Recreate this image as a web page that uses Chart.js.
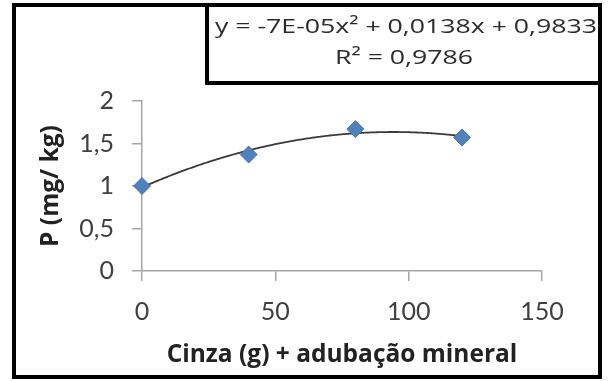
<!DOCTYPE html>
<html>
<head>
<meta charset="utf-8">
<script src="https://cdn.jsdelivr.net/npm/chart.js@4"></script>
<style>
  html, body { margin: 0; padding: 0; background: #ffffff; }
  canvas { display: block; }
</style>
</head>
<body>
<canvas id="chart" width="608" height="381"></canvas>
<script>
// Ash dose (g) applied together with mineral fertiliser, and soil P (mg/kg)
const doses = [0, 40, 80, 120];
const phosphorus = [1.00, 1.37, 1.67, 1.57];

// Axis ranges and tick steps
const xRange = [0, 150];
const xStep = 50;
const yRange = [0, 2];
const yStep = 0.5;

// Texts
const xTitle = 'Cinza (g) + adubação mineral';
const yTitle = 'P (mg/ kg)';
const equationLines = ['y = -7E-05x² + 0,0138x + 0,9833', 'R² = 0,9786'];

// Least-squares second-order polynomial through the measured points
function quadraticFit(xs, ys) {
  const n = xs.length;
  let s1 = 0, s2 = 0, s3 = 0, s4 = 0, t0 = 0, t1 = 0, t2 = 0;
  for (let i = 0; i < n; i++) {
    const x = xs[i], y = ys[i];
    s1 += x; s2 += x * x; s3 += x * x * x; s4 += x * x * x * x;
    t0 += y; t1 += x * y; t2 += x * x * y;
  }
  const m = [[n, s1, s2, t0], [s1, s2, s3, t1], [s2, s3, s4, t2]];
  for (let c = 0; c < 3; c++) {
    let p = c;
    for (let r = c + 1; r < 3; r++) if (Math.abs(m[r][c]) > Math.abs(m[p][c])) p = r;
    [m[c], m[p]] = [m[p], m[c]];
    for (let r = 0; r < 3; r++) {
      if (r === c) continue;
      const f = m[r][c] / m[c][c];
      for (let k = c; k < 4; k++) m[r][k] -= f * m[c][k];
    }
  }
  return [m[0][3] / m[0][0], m[1][3] / m[1][1], m[2][3] / m[2][2]];
}
const trend = quadraticFit(doses, phosphorus);

const decimalComma = v => String(v).replace('.', ',');

// draws one centred line of text, widened to the given width
function wideText(ctx, text, cx, baseline, width) {
  const w = ctx.measureText(text).width;
  const k = width / w;
  ctx.save();
  ctx.translate(cx, baseline);
  ctx.scale(k, 1);
  ctx.fillText(text, 0, 0);
  ctx.restore();
  return k;
}

const framePlugin = {
  id: 'frame',
  beforeDraw(chart) {
    const ctx = chart.ctx;
    ctx.save();
    ctx.fillStyle = '#ffffff';
    ctx.fillRect(0, 0, chart.width, chart.height);
    ctx.restore();
  },
  beforeDatasetsDraw(chart) {
    // trend curve over the dose range of the data
    const ctx = chart.ctx;
    const xs = chart.scales.x, ys = chart.scales.y;
    const x0 = Math.min(...doses), x1 = Math.max(...doses);
    ctx.save();
    ctx.beginPath();
    for (let i = 0; i <= 240; i++) {
      const x = x0 + (x1 - x0) * i / 240;
      const y = trend[0] + trend[1] * x + trend[2] * x * x;
      const px = xs.getPixelForValue(x), py = ys.getPixelForValue(y);
      if (i === 0) ctx.moveTo(px, py); else ctx.lineTo(px, py);
    }
    ctx.strokeStyle = '#3a3a3a';
    ctx.lineWidth = 1.8;
    ctx.stroke();
    ctx.restore();
  },
  afterDraw(chart) {
    const ctx = chart.ctx;
    ctx.save();
    ctx.strokeStyle = '#000000';
    ctx.lineWidth = 4;
    // outer frame
    ctx.strokeRect(14, 5, 586, 372);
    // equation box
    ctx.fillStyle = '#ffffff';
    ctx.fillRect(207, 5, 393, 78);
    ctx.strokeRect(207, 5, 393, 78);
    ctx.fillStyle = '#2b2b2b';
    ctx.font = '20px "Open Sans"';
    ctx.textAlign = 'center';
    ctx.textBaseline = 'alphabetic';
    const k = wideText(ctx, equationLines[0], 406, 33, 382);
    wideText(ctx, equationLines[1], 404, 64, ctx.measureText(equationLines[1]).width * k);
    ctx.restore();
  }
};

const axisGrey = '#a6a6a6';

new Chart(document.getElementById('chart'), {
  type: 'scatter',
  data: {
    datasets: [{
      data: doses.map((d, i) => ({ x: d, y: phosphorus[i] })),
      pointStyle: 'rectRot',
      pointRadius: 8.5,
      pointHoverRadius: 8.5,
      backgroundColor: '#4f81bd',
      borderColor: '#4677b3',
      borderWidth: 1,
      showLine: false,
      clip: false
    }]
  },
  options: {
    responsive: false,
    animation: false,
    devicePixelRatio: 1,
    layout: { padding: { left: 0, right: 66, top: 101, bottom: 0 } },
    plugins: {
      legend: { display: false },
      tooltip: { enabled: false }
    },
    scales: {
      x: {
        type: 'linear',
        min: xRange[0],
        max: xRange[1],
        afterFit: s => { s.height = 110; },
        ticks: {
          stepSize: xStep,
          maxRotation: 0,
          padding: 16,
          color: '#404040',
          font: { family: 'Lato', size: 25 },
          callback: decimalComma
        },
        grid: { drawOnChartArea: false, drawTicks: true, tickLength: 10, color: axisGrey, lineWidth: 1.5 },
        border: { color: axisGrey, width: 1.5 },
        title: {
          display: true,
          text: xTitle,
          color: '#222222',
          font: { family: 'Open Sans', size: 24.5, weight: 'bold' },
          padding: { top: 0, bottom: 11 }
        }
      },
      y: {
        type: 'linear',
        min: yRange[0],
        max: yRange[1],
        afterFit: s => { s.width = 142; },
        ticks: {
          stepSize: yStep,
          padding: 18,
          color: '#404040',
          font: { family: 'Lato', size: 25 },
          callback: decimalComma
        },
        grid: { drawOnChartArea: false, drawTicks: true, tickLength: 10, color: axisGrey, lineWidth: 1.5 },
        border: { color: axisGrey, width: 1.5 },
        title: {
          display: true,
          text: yTitle,
          color: '#222222',
          font: { family: 'Open Sans', size: 24.5, weight: 'bold' },
          padding: { top: 36, bottom: 0 }
        }
      }
    }
  },
  plugins: [framePlugin]
});
</script>
</body>
</html>
